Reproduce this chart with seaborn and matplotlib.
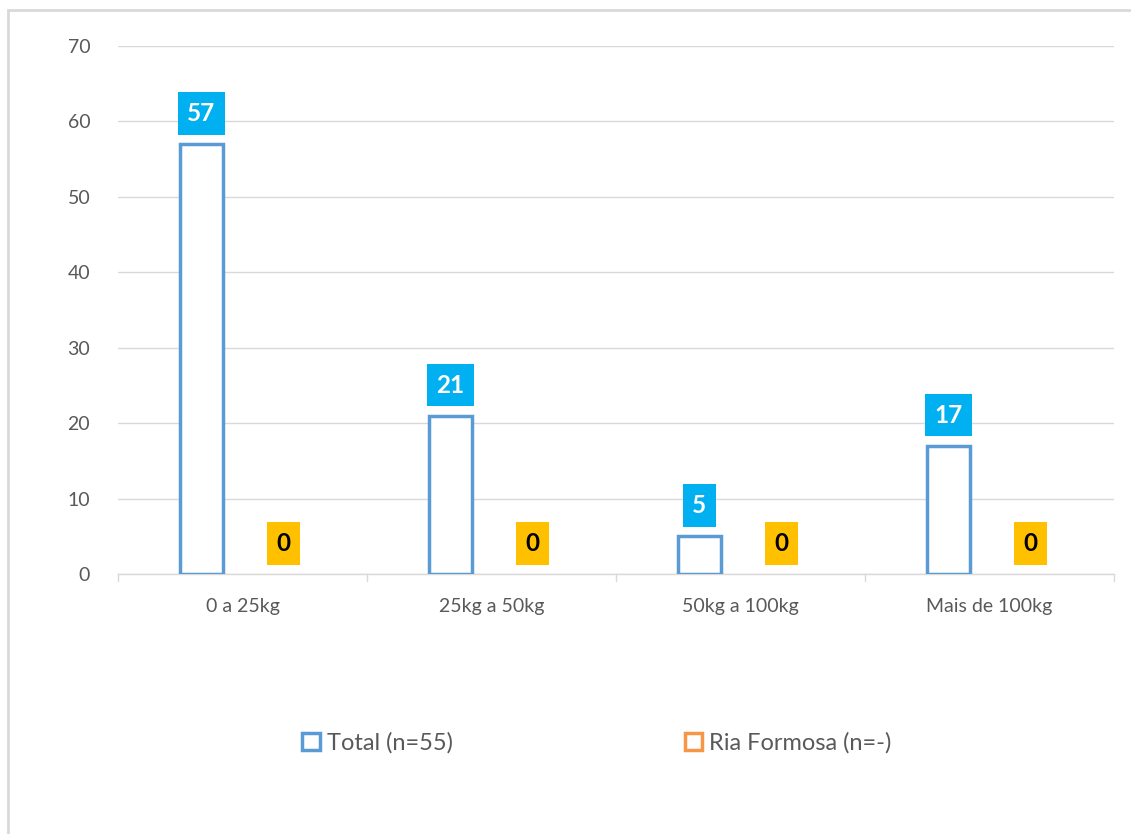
import pandas as pd
import seaborn as sns
import matplotlib.pyplot as plt
from matplotlib.patches import Rectangle

# data
categories = ['0 a 25kg', '25kg a 50kg', '50kg a 100kg', 'Mais de 100kg']
series = ['Total (n=55)', 'Ria Formosa (n=-)']
total_values = [57, 21, 5, 17]
ria_values = [0, 0, 0, 0]

edge_colors = {'Total (n=55)': '#5B9BD5', 'Ria Formosa (n=-)': '#F79646'}
label_colors = {'Total (n=55)': ('#00B0F0', 'white'), 'Ria Formosa (n=-)': ('#FFC000', 'black')}

df = pd.DataFrame({
    'categoria': categories * 2,
    'serie': [series[0]] * 4 + [series[1]] * 4,
    'valor': total_values + ria_values,
})

sns.set_style('white')
plt.rcParams['font.family'] = ['Lato', 'DejaVu Sans']

fig = plt.figure(figsize=(11.31, 8.34), dpi=100)
ax = fig.add_axes([0.1043, 0.3118, 0.8807, 0.633])

sns.barplot(data=df, x='categoria', y='valor', hue='serie', order=categories,
            hue_order=series, width=0.66, gap=0.48, ax=ax, legend=False,
            errorbar=None, fill=False)

# restyle bars: white fill, coloured outline (zero bars show no outline)
for container, name in zip(ax.containers, series):
    bg, fg = label_colors[name]
    for bar in container:
        h = bar.get_height()
        bar.set_facecolor('white')
        bar.set_edgecolor(edge_colors[name])
        bar.set_linewidth(2.5 if h > 0 else 0)
        bar.set_fill(True)
        bar.set_zorder(3)
        ax.annotate(f'{int(h)}', (bar.get_x() + bar.get_width() / 2, h),
                    xytext=(0, 22), textcoords='offset points', ha='center', va='center',
                    fontsize=17.5, fontweight='bold', color=fg, zorder=5,
                    bbox=dict(boxstyle='square,pad=0.4', fc=bg, ec='none'))

ax.set_ylim(0, 70)
ax.set_yticks(range(0, 71, 10))
ax.set_xlim(-0.5, 3.5)
ax.grid(axis='y', color='#D9D9D9', linewidth=1)
ax.set_axisbelow(True)
for s in ['top', 'right', 'left']:
    ax.spines[s].set_visible(False)
ax.spines['bottom'].set_color('#D9D9D9')
ax.spines['bottom'].set_linewidth(1)
ax.set_xlabel('')
ax.set_ylabel('')
ax.tick_params(axis='y', length=0, labelsize=14, labelcolor='#595959', pad=20)
ax.tick_params(axis='x', length=0, labelsize=14, labelcolor='#595959', pad=17)
# category boundary ticks
for b in [-0.5, 0.5, 1.5, 2.5, 3.5]:
    ax.plot([b, b], [0, -0.9], color='#D9D9D9', lw=1, clip_on=False)

# legend
handles = [Rectangle((0, 0), 1, 1, fc='white', ec=edge_colors[n], lw=2.5) for n in series]
fig.legend(handles, series, loc='center', bbox_to_anchor=(0.528, 0.109), ncol=2,
           frameon=False, fontsize=17, labelcolor='#595959', handlelength=0.75,
           handleheight=0.75, handletextpad=0.3, columnspacing=9.8)

# outer chart border
fig.patches.append(Rectangle((8 / 1131, -0.1), 1.2, (834 - 10) / 834 + 0.1,
                             transform=fig.transFigure, fill=False,
                             ec='#D9D9D9', lw=2, zorder=0))

fig.savefig('out.png', dpi=100)
